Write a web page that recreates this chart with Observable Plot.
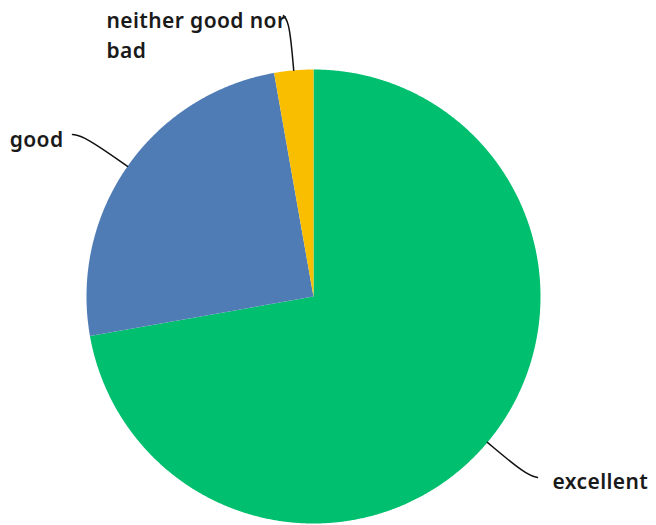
<!DOCTYPE html>
<html><head><meta charset="utf-8">
<script src="https://cdn.jsdelivr.net/npm/d3@7"></script>
<script src="https://cdn.jsdelivr.net/npm/@observablehq/plot@0.6"></script>
<style>body{margin:0;background:#fff}</style>
</head><body><div id="chart"></div>
<script>
// ---- data ----
const categories = ["excellent", "good", "neither good nor bad"];
const counts = [26, 9, 1];
const colors = ["#00BF6F", "#507CB6", "#F9BE00"];
const labelTexts = ["excellent", "good", "neither good nor\nbad"];

// ---- layout ----
const W = 656, H = 525, CX = 313, CY = 296, R = 227;
const ux = px => (px - CX) / R, uy = py => (CY - py) / R;
const layout = {
  "excellent": {elbow: 1.22, end: [537, 477], text: [552, 479], anchor: "start", lineAnchor: "middle"},
  "good": {elbow: 1.23, end: [72, 134], text: [63, 137], anchor: "end", lineAnchor: "middle"},
  "neither good nor bad": {elbow: 1.21, end: [283, 15], text: [106, 6], anchor: "start", lineAnchor: "top"}
};

const arcs = d3.pie().sort(null).value(d => d.value)(
  categories.map((c, i) => ({category: c, value: counts[i], label: labelTexts[i]}))
);

// slice polygons on the unit circle
const slicePts = [];
arcs.forEach(a => {
  const c = a.data.category;
  const n = Math.max(4, Math.ceil((a.endAngle - a.startAngle) / 0.005));
  slicePts.push({category: c, x: 0, y: 0});
  for (let k = 0; k <= n; k++) {
    const t = a.startAngle + (a.endAngle - a.startAngle) * k / n;
    slicePts.push({category: c, x: Math.sin(t), y: Math.cos(t)});
  }
  slicePts.push({category: c, x: 0, y: 0});
});

// leader lines
const leaderPts = [];
const labels = [];
arcs.forEach(a => {
  const c = a.data.category, L = layout[c];
  const m = (a.startAngle + a.endAngle) / 2;
  leaderPts.push({category: c, x: Math.sin(m), y: Math.cos(m)});
  leaderPts.push({category: c, x: L.elbow * Math.sin(m), y: L.elbow * Math.cos(m)});
  leaderPts.push({category: c, x: ux(L.end[0]), y: uy(L.end[1])});
  labels.push({category: c, label: a.data.label, x: ux(L.text[0]), y: uy(L.text[1]), anchor: L.anchor, lineAnchor: L.lineAnchor});
});

const textOpts = {
  fontSize: 21, fontWeight: 600, fill: "#1a1a1a",
  fontFamily: "'Noto Sans', 'Open Sans', sans-serif", lineHeight: 1.43
};

const chart = Plot.plot({
  width: W, height: H,
  margin: 0,
  style: {letterSpacing: "0.4px"},
  x: {domain: [ux(0), ux(W)], range: [0, W], axis: null},
  y: {domain: [uy(H), uy(0)], range: [H, 0], axis: null},
  color: {domain: categories, range: colors},
  marks: [
    Plot.line(slicePts, {x: "x", y: "y", z: "category", fill: "category", stroke: "none", curve: "linear"}),
    Plot.line(leaderPts, {x: "x", y: "y", z: "category", stroke: "#111", strokeWidth: 1.5, curve: "basis"}),
    ...labels.map(d => Plot.text([d], {x: "x", y: "y", text: "label", textAnchor: d.anchor, lineAnchor: d.lineAnchor, ...textOpts}))
  ]
});
document.getElementById("chart").append(chart);
</script>
</body></html>
